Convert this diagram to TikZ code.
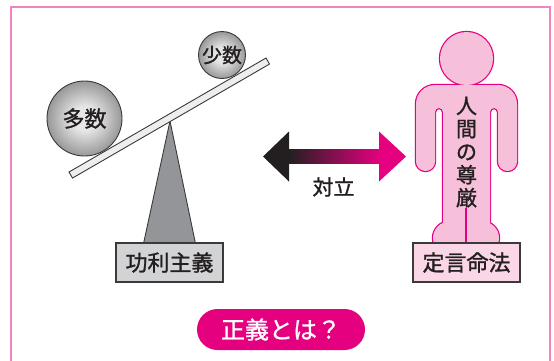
\documentclass[tikz,border=0pt]{standalone}
\usepackage{fontspec}
\setmainfont[FakeBold=1.2]{Noto Sans CJK JP}

\definecolor{framepink}{HTML}{F283C2}
\definecolor{magentaK}{HTML}{E4007F}
\definecolor{bodypink}{HTML}{F7C0DA}
\definecolor{boxpink}{HTML}{FAD6E7}
\definecolor{inkgray}{HTML}{3A3A3A}
\definecolor{textdark}{HTML}{231F20}
\definecolor{boxgray}{HTML}{D2D3D5}
\definecolor{fulcrumgray}{HTML}{939598}
\definecolor{plankgray}{HTML}{EEEEEE}
\definecolor{ballhi}{HTML}{E6E6E6}
\definecolor{balledge}{HTML}{6A6A6A}
\definecolor{shaftmid}{HTML}{86506F}

% soft grey sphere: light centre fading to a mid grey rim
\pgfdeclareradialshading{sphereshade}{\pgfpoint{0bp}{0bp}}{%
  color(0bp)=(ballhi); color(8bp)=(ballhi); color(35bp)=(balledge); color(50bp)=(balledge)}

\begin{document}
\begin{tikzpicture}[x=1pt, y=-1pt,
  labelbox/.style={draw=inkgray, line width=1.3pt, minimum width=107pt,
    minimum height=39pt, inner sep=0pt, text=textdark,
    font=\fontsize{22}{24}\selectfont},
  ballnode/.style={circle, draw=inkgray, line width=0.9pt, shading=sphereshade,
    inner sep=0pt, text=textdark},
  outlineink/.style={draw=inkgray, line width=0.9pt},
  figedge/.style={draw=magentaK, line width=2.4pt},
  figfill/.style={fill=bodypink}]

\useasboundingbox (0,0) rectangle (554,360);

% frame
\draw[framepink, line width=2pt] (11,361) -- (11,7) -- (550,7) -- (550,361);

% ---- seesaw ----
\draw[outlineink, fill=fulcrumgray] (170,121) -- (196,246) -- (143,246) -- cycle;
\draw[outlineink, fill=plankgray]
  (69,172) -- (266,58) -- (269.5,64.06) -- (72.5,178.06) -- cycle;
\node[ballnode, minimum size=75pt, font=\fontsize{22}{24}\selectfont]
  (majority) at (84.5,118.5) {多数};
\node[ballnode, minimum size=47pt, font=\fontsize{20}{22}\selectfont]
  (minority) at (222,55) {少数};
\node[labelbox, fill=boxgray] (utilitarian) at (169.5,262.5) {功利主義};

% ---- opposition arrow ----
\fill[textdark] (263,156.5) -- (289,131.5) -- (289,181.5) -- cycle;
\shade[left color=textdark, middle color=shaftmid, right color=magentaK]
  (288.5,149.5) rectangle (379.5,163.5);
\fill[magentaK] (406,156.5) -- (379,131.5) -- (379,181.5) -- cycle;
\node[text=textdark, font=\fontsize{21}{23}\selectfont] (conflict) at (333.5,187) {対立};

% ---- human figure (outline drawn wide first, fill laid over it) ----
\def\figbody{
  (443,252) -- (443,112) arc[start angle=0, end angle=-180, radius=4]
  -- (435,161.5) arc[start angle=0, end angle=180, radius=9.5]
  -- (416,104) arc[start angle=180, end angle=270, radius=19]
  -- (498,85) arc[start angle=-90, end angle=0, radius=19]
  -- (517,161.5) arc[start angle=0, end angle=180, radius=9.5]
  -- (498,112) arc[start angle=0, end angle=-180, radius=4]
  -- (490,252) -- cycle}
\draw[figedge] \figbody;
\draw[figedge] (449.5,238) circle[radius=16.5];
\draw[figedge] (482.5,238) circle[radius=16.5];
\draw[figedge] (466.5,58.5) circle[radius=26.5];
\fill[figfill] \figbody;
\fill[figfill] (449.5,238) circle[radius=16.5];
\fill[figfill] (482.5,238) circle[radius=16.5];
\fill[figfill] (466.5,58.5) circle[radius=26.5];
\draw[magentaK, line width=1.1pt] (466,208) -- (466,250);
\node[text=textdark, align=center, inner sep=0pt,
  font=\fontsize{21}{23}\selectfont] (dignity) at (466.5,152) {人\\間\\の\\尊\\厳};

\node[labelbox, fill=boxpink] (categorical) at (466.5,262.5) {定言命法};

% ---- question banner ----
\node[fill=magentaK, rounded corners=20.5pt, minimum width=168pt,
  minimum height=41pt, inner sep=0pt, text=white,
  font=\fontsize{24}{26}\selectfont] (justice) at (281,329.5) {正義とは？};

\end{tikzpicture}
\end{document}
